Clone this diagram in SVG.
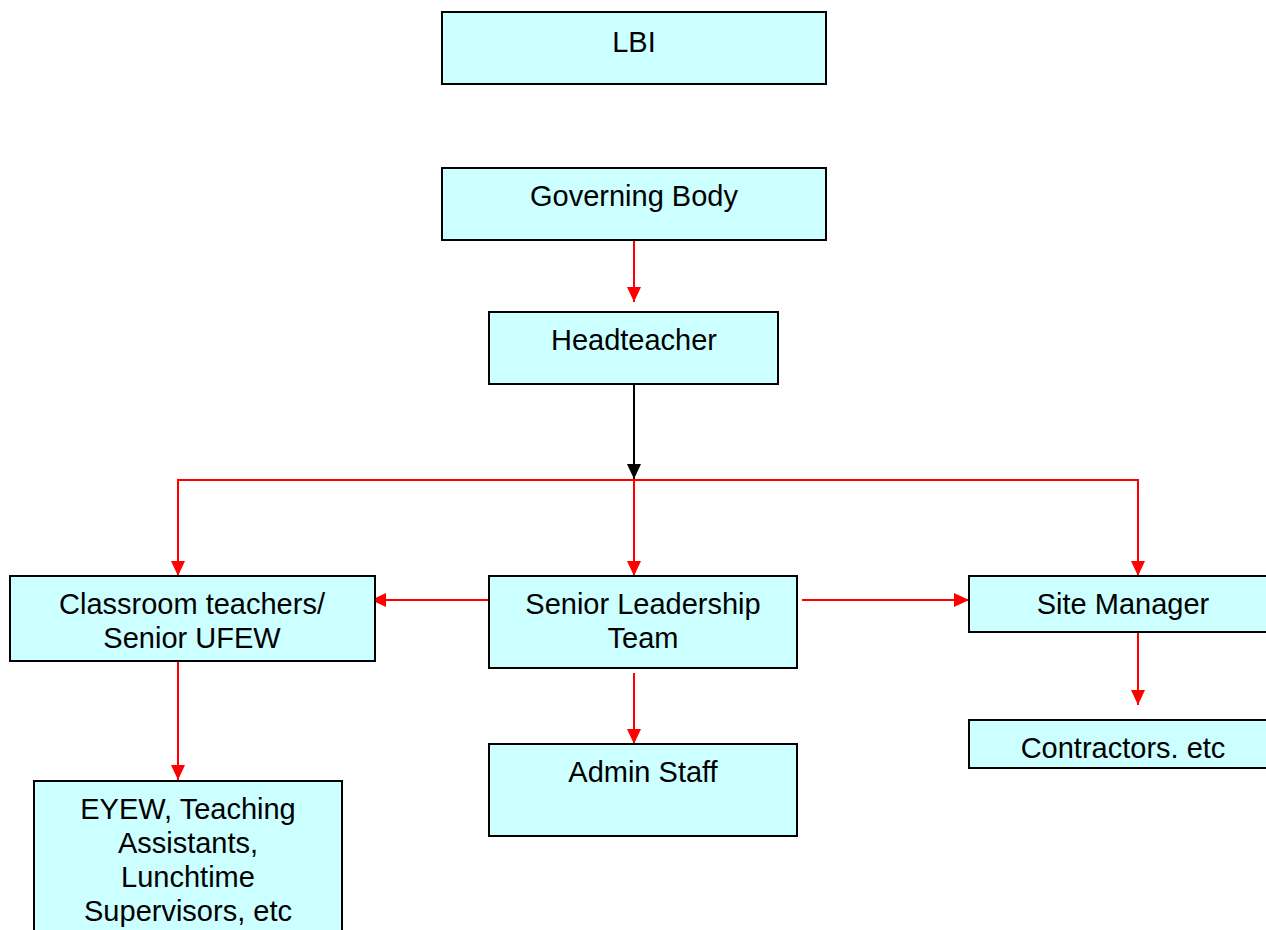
<svg xmlns="http://www.w3.org/2000/svg" width="1266" height="930" viewBox="0 0 1266 930">
<style>
.box{fill:#CCFFFF;stroke:#000;stroke-width:2}
.t{font-family:"Liberation Sans",Arial,sans-serif;font-size:29px;fill:#000;text-anchor:middle}
.r{stroke:#FF0000;stroke-width:2;fill:none}
.k{stroke:#000;stroke-width:2;fill:none}
</style>
<defs>
<marker id="ar" markerUnits="userSpaceOnUse" markerWidth="16" markerHeight="16" viewBox="0 0 16 16" refX="15" refY="8" orient="auto"><path d="M0,1 L15,8 L0,15 Z" fill="#FF0000"/></marker>
<marker id="ak" markerUnits="userSpaceOnUse" markerWidth="16" markerHeight="16" viewBox="0 0 16 16" refX="15" refY="8" orient="auto"><path d="M0,1 L15,8 L0,15 Z" fill="#000"/></marker>
</defs>
<rect width="1266" height="930" fill="#fff"/>
<g id="connectors">
<line class="r" x1="634" y1="240" x2="634" y2="302" marker-end="url(#ar)"/>
<line class="k" x1="634" y1="384" x2="634" y2="479" marker-end="url(#ak)"/>
<polyline class="r" points="178,576 178,480 1138,480 1138,576"/>
<line class="r" x1="178" y1="481" x2="178" y2="576" marker-end="url(#ar)"/>
<line class="r" x1="634" y1="480" x2="634" y2="576" marker-end="url(#ar)"/>
<line class="r" x1="1138" y1="481" x2="1138" y2="576" marker-end="url(#ar)"/>
<line class="r" x1="489" y1="600" x2="371" y2="600" marker-end="url(#ar)"/>
<line class="r" x1="802" y1="600" x2="969" y2="600" marker-end="url(#ar)"/>
<line class="r" x1="1138" y1="624" x2="1138" y2="705" marker-end="url(#ar)"/>
<line class="r" x1="634" y1="673" x2="634" y2="744" marker-end="url(#ar)"/>
<line class="r" x1="178" y1="661" x2="178" y2="780" marker-end="url(#ar)"/>
</g>
<g id="lbi"><rect class="box" x="442" y="12" width="384" height="72"/><text class="t" x="634" y="52">LBI</text></g>
<g id="governing"><rect class="box" x="442" y="168" width="384" height="72"/><text class="t" x="634" y="206">Governing Body</text></g>
<g id="headteacher"><rect class="box" x="489" y="312" width="289" height="72"/><text class="t" x="634" y="350">Headteacher</text></g>
<g id="classroom"><rect class="box" x="10" y="576" width="365" height="85"/><text class="t" x="192" y="614">Classroom teachers/</text><text class="t" x="192" y="648">Senior UFEW</text></g>
<g id="slt"><rect class="box" x="489" y="576" width="308" height="92"/><text class="t" x="643" y="614">Senior Leadership</text><text class="t" x="643" y="648">Team</text></g>
<g id="site"><rect class="box" x="969" y="576" width="310" height="56"/><text class="t" x="1123" y="614">Site Manager</text></g>
<g id="contractors"><rect class="box" x="969" y="720" width="310" height="48"/><text class="t" x="1123" y="758">Contractors. etc</text></g>
<g id="admin"><rect class="box" x="489" y="744" width="308" height="92"/><text class="t" x="643" y="782">Admin Staff</text></g>
<g id="eyew"><rect class="box" x="34" y="781" width="308" height="170"/><text class="t" x="188" y="819">EYEW, Teaching</text><text class="t" x="188" y="853">Assistants,</text><text class="t" x="188" y="887">Lunchtime</text><text class="t" x="188" y="921">Supervisors, etc</text></g>
</svg>
